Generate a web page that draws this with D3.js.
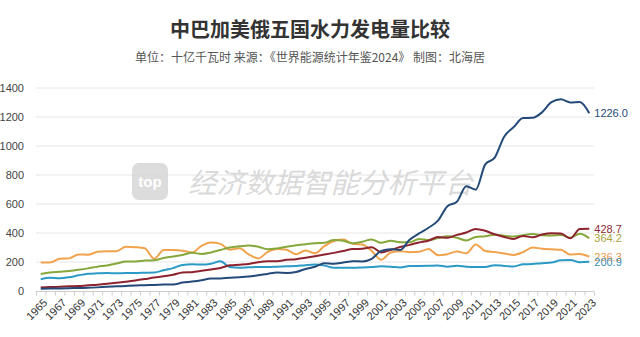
<!DOCTYPE html>
<html><head><meta charset="utf-8">
<script src="https://cdn.jsdelivr.net/npm/d3@7"></script>
<style>
html,body{margin:0;padding:0;background:#fff;}
svg{display:block;font-family:"Noto Sans CJK SC","Noto Sans",sans-serif;}
</style></head><body>
<svg id="c" width="640" height="337"></svg>
<script>
const years = d3.range(1965, 2024);
const yTicks = [0,200,400,600,800,1000,1200,1400];
const seriesNames = ["中国","巴西","加拿大","美国","俄罗斯"];
const seriesColors = ["#234a78","#8e2330","#86a83a","#f0a24c","#2b9bc6"];
const labelColors = ["#234a78","#8e2a3a","#a8a43c","#e99a52","#3a8fba"];
const china = [15,18,18,19,21,22,25,29,32,35,38,40,42,44,45,58,65,74,86,87,92,95,100,109,118,127,125,131,152,167,191,188,196,205,204,222,277,288,283,354,397,436,485,585,616,722,699,873,920,1064,1130,1193,1194,1232,1302,1322,1300,1303,1226.0];
const brazil = [25,27,29,32,34,39,43,50,57,64,72,82,93,101,112,128,130,139,149,159,177,181,186,199,205,205,215,219,230,240,251,263,276,289,291,302,266,283,303,318,335,347,372,367,387,403,428,415,391,373,359,380,370,389,398,396,363,427,428.7];
const canada = [118,128,133,138,146,156,168,176,189,204,204,210,212,228,238,249,263,256,266,283,300,308,313,305,288,294,305,316,323,330,333,352,347,329,340,356,332,347,336,336,359,351,365,377,367,348,373,378,388,381,376,385,393,385,382,386,368,395,364.2];
const usa = [196,197,222,225,252,250,270,275,275,305,302,295,222,282,282,278,265,312,335,325,285,295,252,225,270,290,285,253,280,260,310,345,355,325,320,276,215,265,275,268,270,290,247,254,273,260,320,276,269,259,249,268,300,292,288,285,251,255,236.3];
const russia = [81,91,88,95,108,119,122,124,122,124,124,126,128,143,158,180,184,182,188,205,165,160,163,166,166,168,170,172,178,182,175,160,160,160,162,165,170,168,162,172,173,174,176,168,174,168,166,166,178,173,169,184,186,192,196,212,214,198,200.9];
const seriesData = [china, brazil, canada, usa, russia];

const svg = d3.select("#c");
const x = d3.scaleBand().domain(years).range([36, 594]).paddingInner(0).paddingOuter(0);
const y = d3.scaleLinear().domain([0, 1400]).range([291, 88]);
const cx = d => x(d) + x.bandwidth()/2;

// title
svg.append("text").attr("x", 310).attr("y", 37).attr("text-anchor","middle")
  .attr("font-size", 20).attr("font-weight","bold").attr("fill","#333")
  .text("中巴加美俄五国水力发电量比较");
svg.append("text").attr("x", 310).attr("y", 62).attr("text-anchor","middle")
  .attr("font-size", 12).attr("fill","#555")
  .text("单位：十亿千瓦时  来源：《世界能源统计年鉴2024》  制图：北海居");

// grid
svg.append("g").selectAll("line").data(yTicks.filter(d=>d>0)).join("line")
  .attr("x1", 36).attr("x2", 594).attr("y1", d=>y(d)).attr("y2", d=>y(d))
  .attr("stroke","#e6e6e6").attr("stroke-width",1);
svg.append("g").selectAll("text").data(yTicks).join("text")
  .attr("x", 24).attr("y", d=>y(d)+4).attr("text-anchor","end")
  .attr("font-size", 11).attr("fill","#444").attr("font-family","'Liberation Sans',Arial,sans-serif")
  .text(d=>d);

// watermark
const wm = svg.append("g").attr("opacity", 0.85);
wm.append("rect").attr("x",132).attr("y",163).attr("width",36).attr("height",37).attr("rx",7).attr("fill","#d6d6d6");
wm.append("text").attr("x",150).attr("y",187).attr("text-anchor","middle").attr("font-size",15)
  .attr("font-weight","bold").attr("fill","#fff").attr("font-family","'Liberation Sans',Arial,sans-serif").text("top");
wm.append("text").attr("x",188).attr("y",193).attr("font-size",28).attr("font-style","italic")
  .attr("fill","#d4d4d4").attr("textLength",285).attr("lengthAdjust","spacingAndGlyphs")
  .text("经济数据智能分析平台");

// x axis
svg.append("line").attr("x1",36).attr("x2",594).attr("y1",291.5).attr("y2",291.5).attr("stroke","#ccc");
const bounds = years.map(d=>x(d)).concat([594]);
svg.append("g").selectAll("line").data(bounds).join("line")
  .attr("x1", d=>d+0.5).attr("x2", d=>d+0.5).attr("y1",291.5).attr("y2",295.5).attr("stroke","#ccc");
svg.append("g").selectAll("text").data(years.filter((d,i)=>i%2===0)).join("text")
  .attr("transform", d=>`translate(${cx(d)+2},${298}) rotate(-45)`)
  .attr("text-anchor","end").attr("dy","0.7em").attr("font-size",11).attr("fill","#333")
  .attr("font-family","'Liberation Sans',Arial,sans-serif")
  .text(d=>d);

// lines (draw bottom ones first, china last)
const line = d3.line().x((d,i)=>cx(years[i])).y(d=>y(d)).curve(d3.curveMonotoneX);
const order = [4,3,2,1,0];
order.forEach(k=>{
  svg.append("path").datum(seriesData[k]).attr("d", line).attr("fill","none")
    .attr("stroke", seriesColors[k]).attr("stroke-width", 2);
});
// end labels
seriesData.forEach((s,k)=>{
  const v = s[s.length-1];
  svg.append("text").attr("x", cx(2023)+5).attr("y", y(v)+4)
    .attr("font-size",11).attr("fill", labelColors[k])
    .attr("font-family","'Liberation Sans',Arial,sans-serif")
    .text(v.toFixed(1));
});
</script>
</body></html>
